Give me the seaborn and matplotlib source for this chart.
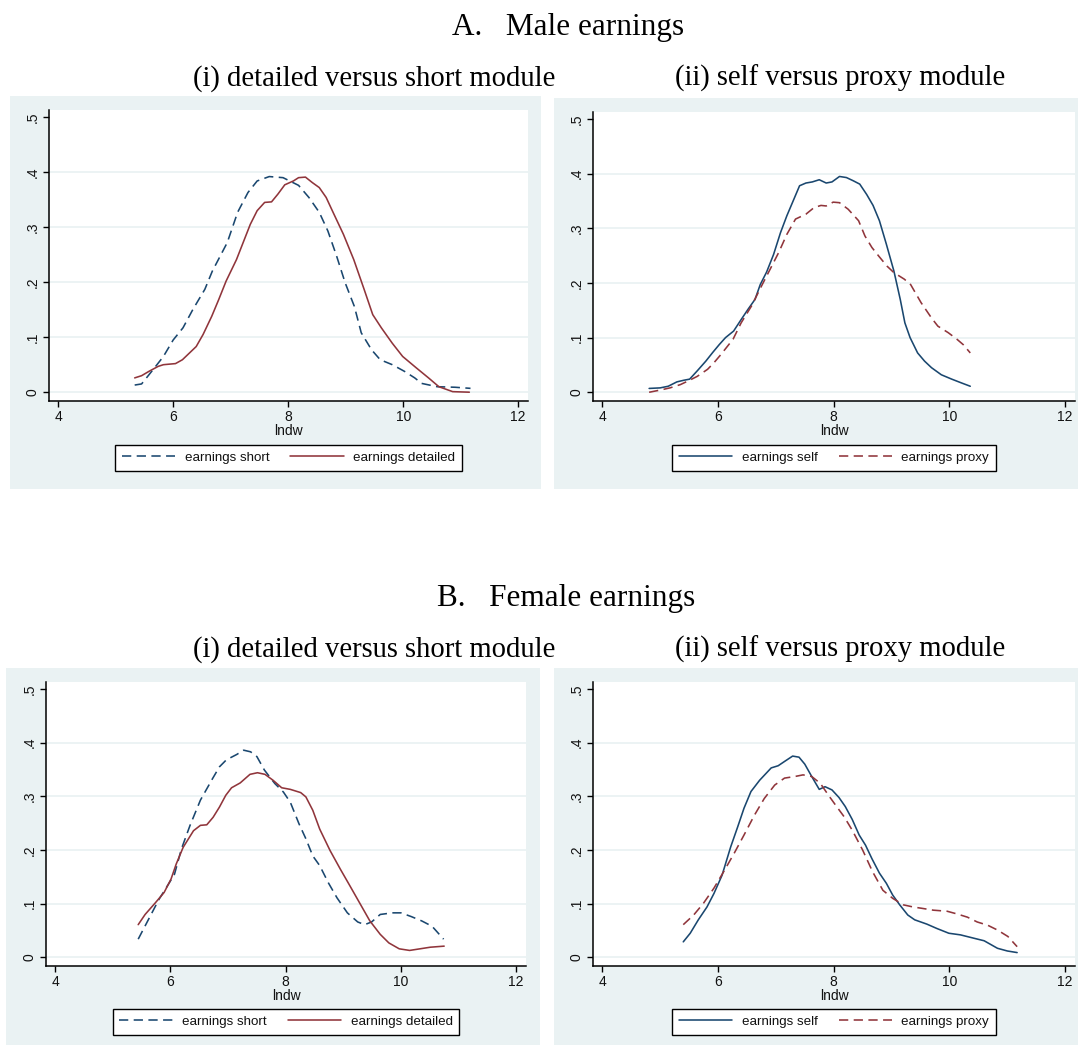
import numpy as np
import pandas as pd
import matplotlib
matplotlib.use("Agg")
import matplotlib.pyplot as plt
from matplotlib.patches import Rectangle
import seaborn as sns

# ---- data (lndw, density) ----
# A(i) male, short vs detailed
a1_short_x = [5.33, 5.45, 5.65, 5.83, 6.0, 6.17, 6.34, 6.55, 6.68, 6.85, 6.94, 7.12, 7.30, 7.46,
              7.67, 7.91, 8.18, 8.36, 8.54, 8.69, 8.84, 8.99, 9.15, 9.27, 9.45, 9.6, 9.81, 10.02,
              10.2, 10.32, 10.59, 10.9, 11.17]
a1_short_y = [0.013, 0.015, 0.041, 0.065, 0.095, 0.117, 0.150, 0.187, 0.220, 0.254, 0.272, 0.327,
              0.363, 0.384, 0.392, 0.390, 0.376, 0.354, 0.327, 0.293, 0.248, 0.199, 0.156, 0.108,
              0.077, 0.059, 0.050, 0.038, 0.026, 0.016, 0.010, 0.009, 0.007]
a1_det_x = [5.33, 5.45, 5.58, 5.74, 5.83, 6.04, 6.16, 6.4, 6.52, 6.67, 6.79, 6.92, 7.1, 7.34, 7.46,
            7.59, 7.71, 7.82, 7.94, 8.09, 8.18, 8.30, 8.42, 8.54, 8.66, 8.78, 8.96, 9.14, 9.32,
            9.47, 9.62, 9.81, 9.99, 10.23, 10.44, 10.62, 10.86, 11.15]
a1_det_y = [0.026, 0.030, 0.038, 0.047, 0.050, 0.052, 0.059, 0.083, 0.105, 0.138, 0.168, 0.202,
            0.241, 0.305, 0.330, 0.345, 0.346, 0.360, 0.377, 0.384, 0.390, 0.391, 0.381, 0.372,
            0.354, 0.327, 0.287, 0.241, 0.187, 0.141, 0.117, 0.089, 0.065, 0.044, 0.026, 0.010,
            0.001, 0.0]

# A(ii) male, self vs proxy
a2_self_x = [4.81, 5.0, 5.14, 5.29, 5.41, 5.51, 5.64, 5.79, 5.91, 6.02, 6.13, 6.27, 6.40, 6.52,
             6.64, 6.73, 6.84, 6.96, 7.08, 7.19, 7.31, 7.41, 7.52, 7.63, 7.75, 7.87, 7.97, 8.10,
             8.22, 8.34, 8.45, 8.57, 8.68, 8.79, 8.91, 9.04, 9.15, 9.23, 9.32, 9.45, 9.57, 9.69,
             9.86, 10.04, 10.21, 10.36]
a2_self_y = [0.007, 0.008, 0.011, 0.019, 0.022, 0.024, 0.039, 0.057, 0.073, 0.087, 0.100, 0.112,
             0.133, 0.152, 0.170, 0.197, 0.220, 0.252, 0.292, 0.323, 0.353, 0.378, 0.383, 0.385,
             0.389, 0.383, 0.385, 0.395, 0.393, 0.387, 0.381, 0.362, 0.342, 0.314, 0.271, 0.222,
             0.170, 0.127, 0.100, 0.072, 0.057, 0.045, 0.032, 0.024, 0.017, 0.011]
a2_proxy_x = [4.81, 5.0, 5.17, 5.35, 5.49, 5.64, 5.82, 5.93, 6.05, 6.26, 6.40, 6.58, 6.75, 6.90,
              7.05, 7.19, 7.34, 7.52, 7.66, 7.78, 7.87, 7.99, 8.10, 8.25, 8.43, 8.54, 8.66, 8.78,
              8.92, 9.04, 9.22, 9.33, 9.51, 9.69, 9.80, 9.98, 10.13, 10.24, 10.36]
a2_proxy_y = [0.0, 0.004, 0.008, 0.014, 0.021, 0.029, 0.042, 0.054, 0.069, 0.097, 0.127, 0.158,
              0.194, 0.225, 0.256, 0.289, 0.317, 0.326, 0.338, 0.342, 0.341, 0.348, 0.347, 0.335,
              0.314, 0.286, 0.265, 0.249, 0.231, 0.219, 0.207, 0.197, 0.164, 0.136, 0.121, 0.109,
              0.097, 0.087, 0.072]

# B(i) female, short vs detailed
b1_short_x = [5.44, 5.62, 5.80, 5.98, 6.07, 6.19, 6.34, 6.52, 6.73, 6.85, 6.97, 7.15, 7.27, 7.39,
              7.50, 7.63, 7.81, 7.96, 8.08, 8.23, 8.35, 8.47, 8.59, 8.74, 8.89, 9.07, 9.25, 9.37,
              9.49, 9.64, 9.85, 10.0, 10.18, 10.36, 10.54, 10.74]
b1_short_y = [0.034, 0.071, 0.108, 0.139, 0.155, 0.202, 0.246, 0.293, 0.333, 0.355, 0.368, 0.378,
              0.386, 0.383, 0.374, 0.349, 0.324, 0.308, 0.289, 0.249, 0.221, 0.189, 0.171, 0.139,
              0.111, 0.083, 0.066, 0.061, 0.066, 0.080, 0.083, 0.083, 0.076, 0.068, 0.058, 0.034]
b1_det_x = [5.44, 5.56, 5.74, 5.89, 6.01, 6.10, 6.22, 6.40, 6.52, 6.63, 6.74, 6.85, 6.96, 7.06,
            7.21, 7.38, 7.51, 7.64, 7.78, 7.93, 8.08, 8.26, 8.35, 8.47, 8.59, 8.77, 8.95, 9.10,
            9.28, 9.46, 9.64, 9.79, 9.97, 10.15, 10.33, 10.51, 10.75]
b1_det_y = [0.061, 0.080, 0.102, 0.121, 0.146, 0.174, 0.205, 0.236, 0.246, 0.247, 0.261, 0.280,
            0.302, 0.316, 0.325, 0.341, 0.344, 0.341, 0.330, 0.316, 0.313, 0.307, 0.299, 0.274,
            0.239, 0.199, 0.164, 0.136, 0.102, 0.068, 0.043, 0.027, 0.016, 0.013, 0.016, 0.019,
            0.021]

# B(ii) female, self vs proxy
b2_self_x = [5.40, 5.52, 5.66, 5.81, 5.93, 6.07, 6.22, 6.34, 6.45, 6.57, 6.72, 6.92, 7.04, 7.15,
             7.29, 7.40, 7.50, 7.62, 7.75, 7.85, 7.97, 8.09, 8.20, 8.32, 8.44, 8.55, 8.66, 8.79,
             8.91, 9.02, 9.14, 9.28, 9.40, 9.61, 9.78, 9.99, 10.19, 10.45, 10.60, 10.83, 11.0,
             11.17]
b2_self_y = [0.029, 0.045, 0.070, 0.094, 0.119, 0.153, 0.206, 0.243, 0.278, 0.309, 0.330, 0.353,
             0.357, 0.365, 0.375, 0.373, 0.360, 0.337, 0.313, 0.318, 0.312, 0.298, 0.281, 0.257,
             0.228, 0.209, 0.184, 0.157, 0.138, 0.116, 0.098, 0.079, 0.070, 0.062, 0.054, 0.045,
             0.042, 0.035, 0.031, 0.017, 0.012, 0.009]
b2_proxy_x = [5.40, 5.58, 5.75, 5.93, 6.10, 6.28, 6.45, 6.63, 6.80, 6.98, 7.15, 7.33, 7.47, 7.62,
              7.77, 7.91, 8.03, 8.18, 8.32, 8.50, 8.67, 8.85, 9.02, 9.20, 9.37, 9.55, 9.72, 9.96,
              10.13, 10.31, 10.48, 10.66, 10.83, 11.01, 11.17]
b2_proxy_y = [0.061, 0.079, 0.101, 0.129, 0.160, 0.194, 0.228, 0.265, 0.296, 0.321, 0.334, 0.337,
              0.340, 0.337, 0.324, 0.302, 0.284, 0.262, 0.237, 0.200, 0.160, 0.125, 0.110, 0.098,
              0.094, 0.091, 0.088, 0.086, 0.081, 0.075, 0.066, 0.060, 0.051, 0.039, 0.020]

titles = ["A.   Male earnings", "B.   Female earnings"]
subtitles = ["(i) detailed versus short module", "(ii) self versus proxy module"]
x_ticks = [4, 6, 8, 10, 12]
y_ticks = [0, 0.1, 0.2, 0.3, 0.4, 0.5]
y_tick_labels = ["0", ".1", ".2", ".3", ".4", ".5"]

NAVY = "#1A476F"
MAROON = "#90353B"
BG = "#EAF2F3"
W, H = 1078, 1045

sns.set_theme(style="white")
plt.rcParams["font.family"] = ["Liberation Sans", "DejaVu Sans"]

fig = plt.figure(figsize=(W / 100, H / 100), dpi=100)
fig.patch.set_facecolor("white")


def px_rect(left, right, top, bottom):
    return [left / W, 1 - bottom / H, (right - left) / W, (bottom - top) / H]


# panel: outer box, axes box (pixels), series
panels = [
    dict(outer=(10, 541, 96, 489), axes=(49, 528, 110, 401), legend_top=445,
         series=[(a1_short_x, a1_short_y, "earnings short", NAVY, True),
                 (a1_det_x, a1_det_y, "earnings detailed", MAROON, False)]),
    dict(outer=(554, 1090, 98, 489), axes=(593, 1075, 112, 401), legend_top=445,
         series=[(a2_self_x, a2_self_y, "earnings self", NAVY, False),
                 (a2_proxy_x, a2_proxy_y, "earnings proxy", MAROON, True)]),
    dict(outer=(6, 540, 668, 1060), axes=(46, 526, 682, 966), legend_top=1009,
         series=[(b1_short_x, b1_short_y, "earnings short", NAVY, True),
                 (b1_det_x, b1_det_y, "earnings detailed", MAROON, False)]),
    dict(outer=(554, 1090, 668, 1060), axes=(593, 1075, 682, 966), legend_top=1009,
         series=[(b2_self_x, b2_self_y, "earnings self", NAVY, False),
                 (b2_proxy_x, b2_proxy_y, "earnings proxy", MAROON, True)]),
]

for p in panels:
    l, r, t, b = p["outer"]
    fig.patches.append(Rectangle((l / W, 1 - b / H), (r - l) / W, (b - t) / H,
                                 transform=fig.transFigure, facecolor=BG,
                                 edgecolor="none", zorder=-10))

    al, ar, at, ab = p["axes"]
    ax = fig.add_axes(px_rect(al, ar, at, ab))
    ax.set_facecolor("white")

    for yv in y_ticks[:-1]:
        ax.axhline(yv, color=BG, lw=1.3, zorder=1)

    for xs, ys, lab, col, dashed in p["series"]:
        df = pd.DataFrame({"lndw": xs, "density": ys})
        line_ax = sns.lineplot(data=df, x="lndw", y="density", ax=ax, color=col,
                               lw=1.15, label=lab, estimator=None, sort=True, zorder=3)
        if dashed:
            line_ax.lines[-1].set_dashes([5.8, 3.4])

    ax.set_xlim(3.84, 12.17)
    ax.set_ylim(-0.016, 0.513)
    ax.set_xticks(x_ticks)
    ax.set_xticklabels([str(v) for v in x_ticks])
    ax.set_yticks(y_ticks)
    ax.set_yticklabels(y_tick_labels, rotation=90, va="center")
    ax.tick_params(axis="both", which="major", direction="out", length=4.3, width=1.0,
                   color="black", labelsize=10, pad=2.5, labelcolor="#111111",
                   bottom=True, left=True)
    ax.set_xlabel("lndw", fontsize=10, labelpad=0, color="#111111")
    ax.set_ylabel("")
    ax.grid(False)
    for side in ["top", "right"]:
        ax.spines[side].set_visible(False)
    for side in ["left", "bottom"]:
        ax.spines[side].set_color("black")
        ax.spines[side].set_linewidth(1.1)

    handles, labels = ax.get_legend_handles_labels()
    leg_y = -(p["legend_top"] - ab) / (ab - at)
    leg = ax.legend(handles, labels, loc="upper center", bbox_to_anchor=(0.5, leg_y),
                    ncol=2, frameon=True, fancybox=False, edgecolor="black",
                    framealpha=1, fontsize=9.6, handlelength=4.0, handletextpad=0.7,
                    columnspacing=1.6, borderpad=0.5, borderaxespad=0)
    leg.get_frame().set_linewidth(1.0)
    for t_ in leg.get_texts():
        t_.set_color("#111111")

# headings
serif = ["Liberation Serif", "DejaVu Serif"]
fig.text(452 / W, 1 - 35 / H, titles[0], fontsize=22.5, family=serif, va="baseline",
         color="black")
fig.text(193 / W, 1 - 86 / H, subtitles[0], fontsize=20.6, family=serif, va="baseline",
         color="black")
fig.text(675 / W, 1 - 86 / H, subtitles[1], fontsize=20.6, family=serif, va="baseline",
         color="black")
fig.text(437 / W, 1 - 606 / H, titles[1], fontsize=22.5, family=serif, va="baseline",
         color="black")
fig.text(193 / W, 1 - 657 / H, subtitles[0], fontsize=20.6, family=serif, va="baseline",
         color="black")
fig.text(675 / W, 1 - 657 / H, subtitles[1], fontsize=20.6, family=serif, va="baseline",
         color="black")

fig.savefig("out.png", dpi=100, facecolor="white")
